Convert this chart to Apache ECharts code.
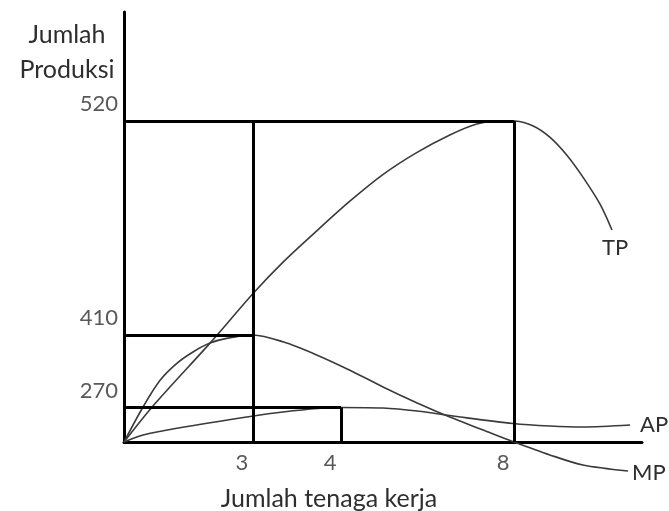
<!DOCTYPE html>
<html>
<head>
<meta charset="utf-8">
<script src="https://cdn.jsdelivr.net/npm/echarts@6/dist/echarts.min.js"></script>
<style>
  html, body { margin: 0; padding: 0; background: #fff; }
  #chart { width: 669px; height: 511px; }
</style>
</head>
<body>
<div id="chart"></div>
<script>
// Schematic diagram: positions expressed on a 0-100 drawing scale for both axes.
const xTickLabels = ['3', '4', '8'];
const xTickPos = [24.9, 41.9, 75.3];
const yTickLabels = ['520', '410', '270'];
const yTickPos = [74.65, 24.9, 8.0];

const tpX = [0, 5.4, 16.6, 25.0, 30.75, 37.2, 43.6, 50.1, 56.5, 62.9, 68.1, 72.6, 75.5, 79.0, 82.2, 85.5, 88.6, 91.9, 94.2];
const tpY = [0, 8.1, 23.0, 34.65, 41.9, 49.1, 56.0, 62.3, 67.3, 71.4, 73.95, 74.7, 74.65, 73.5, 70.9, 66.7, 61.6, 55.3, 49.3];

const mpX = [0, 3.7, 7.0, 10.2, 13.4, 16.6, 19.8, 24.9, 30.7, 37.3, 43.6, 50.0, 56.6, 62.9, 69.3, 75.3, 82.2, 88.6, 97.3];
const mpY = [0, 8.2, 14.4, 18.3, 21.0, 23.0, 24.1, 24.9, 23.3, 20.2, 16.7, 12.8, 9.07, 5.8, 2.8, 0, -3.0, -5.35, -6.74];

const apX = [0, 3.7, 10.2, 25.0, 30.7, 37.3, 41.9, 50.0, 56.6, 64.9, 75.1, 82.2, 88.6, 97.7];
const apY = [0, 1.63, 3.19, 6.05, 6.98, 7.79, 8.02, 7.9, 7.2, 5.81, 4.3, 3.72, 3.49, 3.95];

const seriesNames = ['TP', 'AP', 'MP'];
const yTitle = 'Jumlah\nProduksi';
const xTitle = 'Jumlah tenaga kerja';

const FONT = 'Lato';
const TXT = '#2e2e2e';
const CURVE = '#3a3a3a';

const zip = (xs, ys) => xs.map((x, i) => [x, ys[i]]);

const X3 = xTickPos[0], X4 = xTickPos[1], X8 = xTickPos[2];
const Y520 = yTickPos[0], Y410 = yTickPos[1], Y270 = yTickPos[2];
const guideSegments = [
  [[0, Y520], [X8, Y520]],
  [[X8, Y520], [X8, 0]],
  [[X3, Y520], [X3, 0]],
  [[0, Y410], [X3, Y410]],
  [[0, Y270], [X4, Y270]],
  [[X4, Y270], [X4, 0]]
];

function curve(name, xs, ys, labelOffset) {
  return {
    name: name,
    type: 'line',
    data: zip(xs, ys),
    smooth: 0.3,
    showSymbol: false,
    symbol: 'none',
    clip: false,
    lineStyle: { color: CURVE, width: 1.6 },
    endLabel: {
      show: true,
      formatter: '{a}',
      color: TXT,
      fontFamily: FONT,
      fontSize: 22,
      offset: labelOffset,
      distance: 0
    },
    silent: true,
    z: 3
  };
}

const chart = echarts.init(document.getElementById('chart'), null, { renderer: 'canvas' });
chart.setOption({
  animation: false,
  backgroundColor: '#ffffff',
  title: [
    {
      text: yTitle, left: 62, top: 12, textAlign: 'center',
      textStyle: { fontFamily: FONT, fontSize: 25, fontWeight: 'normal', color: TXT, lineHeight: 35 }
    },
    {
      text: xTitle, left: 324, top: 481, textAlign: 'center',
      textStyle: { fontFamily: FONT, fontSize: 25, fontWeight: 'normal', color: TXT }
    }
  ],
  grid: { left: 124, top: 12, right: 27, bottom: 69, containLabel: false },
  xAxis: {
    type: 'value', min: 0, max: 100,
    axisLine: { show: true, onZero: true, lineStyle: { color: '#000', width: 3 } },
    axisTick: { show: false }, axisLabel: { show: false }, splitLine: { show: false }
  },
  yAxis: {
    type: 'value', min: 0, max: 100,
    axisLine: { show: true, onZero: true, lineStyle: { color: '#000', width: 3 } },
    axisTick: { show: false }, axisLabel: { show: false }, splitLine: { show: false }
  },
  series: [
    {
      name: 'guides',
      type: 'line',
      data: [],
      silent: true,
      markLine: {
        silent: true,
        symbol: ['none', 'none'],
        animation: false,
        label: { show: false },
        lineStyle: { color: '#000', width: 3, type: 'solid' },
        emphasis: { disabled: true },
        data: guideSegments.map(s => [{ coord: s[0] }, { coord: s[1] }])
      },
      z: 2
    },
    curve(seriesNames[0], tpX, tpY, [-10, 18]),
    curve(seriesNames[1], apX, apY, [10, 0]),
    curve(seriesNames[2], mpX, mpY, [4, 2]),
    {
      name: 'xticks',
      type: 'scatter',
      symbolSize: 0,
      silent: true,
      clip: false,
      data: xTickPos.map((x, i) => ({ value: [x, 0], name: xTickLabels[i] })),
      label: {
        show: true, formatter: '{b}', position: 'inside',
        align: 'center', verticalAlign: 'middle', offset: [-11, 21],
        color: TXT, fontFamily: FONT, fontSize: 22
      }
    },
    {
      name: 'yticks',
      type: 'scatter',
      symbolSize: 0,
      silent: true,
      clip: false,
      data: yTickPos.map((y, i) => ({ value: [0, y], name: yTickLabels[i] })),
      label: {
        show: true, formatter: '{b}', position: 'inside',
        align: 'right', verticalAlign: 'middle', offset: [-6, -17],
        color: TXT, fontFamily: FONT, fontSize: 22
      }
    }
  ]
});
</script>
</body>
</html>
